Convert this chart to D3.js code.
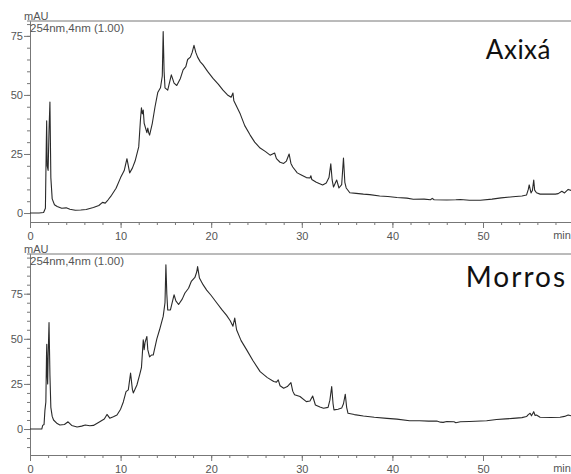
<!DOCTYPE html>
<html>
<head>
<meta charset="utf-8">
<script src="https://cdn.jsdelivr.net/npm/d3@7"></script>
<style>
  body { margin: 0; background: #fff; }
  .axis path, .axis line { stroke: #777; }
  .axis text { fill: #555; font-family: "Liberation Sans", Arial, sans-serif; font-size: 11px; }
  .trace { fill: none; stroke: #2a2a2a; stroke-width: 1.1; stroke-linejoin: round; }
</style>
</head>
<body>
<script>
// ---- data (time in min, absorbance in mAU) ----
var axixaTime = [0,1.0,1.5,1.7,1.8,1.84,1.9,2.0,2.1,2.2,2.3,2.45,2.7,3.0,3.5,4.0,4.4,5.0,5.6,6.2,7.0,7.6,8.0,8.3,8.6,9.0,9.5,10.0,10.4,10.7,11.0,11.3,11.6,12.0,12.2,12.3,12.4,12.5,12.6,12.9,13.0,13.1,13.2,13.5,13.8,14.1,14.4,14.6,14.7,14.8,14.9,15.2,15.6,15.9,16.2,16.6,16.9,17.2,17.4,17.7,17.9,18.1,18.3,18.5,18.8,19.1,19.6,20.2,20.8,21.3,21.8,22.2,22.4,22.5,23.2,23.7,24.3,24.8,25.4,26.0,26.5,27.0,27.2,27.6,28.0,28.3,28.6,28.8,29.0,29.5,30.0,30.5,30.9,31.0,31.1,31.6,32.3,32.7,33.0,33.2,33.35,33.5,33.85,34.1,34.4,34.6,34.75,34.9,35.3,36.0,36.8,37.5,38.6,39.5,40.5,41.6,42.3,43.5,44.2,44.4,44.6,46.0,47.0,47.5,48.5,49.7,51.0,52.0,53.3,54.3,54.8,55.0,55.1,55.3,55.45,55.6,55.7,55.9,56.3,57.0,58.0,58.3,58.7,59.0,59.4,59.8];
var axixaAbs  = [0,0,0.2,2,30,39,20,18,35,47,15,6,3.5,2.8,2.0,2.2,1.6,1.2,1.3,1.5,2.3,3.2,4.5,4.2,5.5,7.5,10.5,15,18,23,17,19,22,28,40,44.5,42,43.6,38,34,36,34,33,38,45,51,53,58,76.8,60,53,52,58.5,55,54,57,60.6,62,65,66,68,71,68,66,64,62.7,60,57,54.5,52,50,49,50.8,47.5,42,37,33,30,27.5,26,24.5,25.4,23,21.5,21,22,25,21,19.5,17,16,15,14.8,15.8,14.2,13,11.9,12.7,15,20.8,14,11,14,10.6,12,23.3,13,10.6,8.6,8.3,8.0,7.8,7.2,7.0,6.6,6.3,5.8,5.9,5.6,6.2,5.6,5.5,5.6,5.7,5.4,5.4,5.9,6.4,6.9,7.2,7.6,10,11.9,8.5,9.5,14,9.7,8.6,8,8,8,8.2,9.2,8.5,10,9.5];

var morrosTime = [0,1.3,1.4,1.55,1.65,1.75,1.82,1.85,1.9,1.95,2.0,2.1,2.2,2.3,2.45,2.6,3.0,3.3,3.8,4.2,4.6,5.2,5.7,6.1,6.6,7.0,7.7,8.2,8.5,8.8,9.2,9.6,10.0,10.3,10.6,10.85,11.1,11.3,11.4,11.8,12.1,12.3,12.5,12.6,12.7,12.9,13.0,13.2,13.4,13.6,14.0,14.3,14.7,14.9,15.0,15.1,15.2,15.5,15.9,16.1,16.4,16.8,17.1,17.5,17.8,18.2,18.4,18.5,18.7,19.1,19.5,20.0,20.6,21.2,21.7,22.1,22.4,22.6,22.8,23.3,23.9,24.6,25.4,26.2,26.9,27.2,27.4,27.6,28.0,28.4,28.8,29.0,29.2,29.8,30.5,30.9,31.2,31.5,32.0,32.4,32.9,33.1,33.3,33.45,33.55,34.0,34.4,34.6,34.8,34.95,35.1,35.8,36.8,38.0,39.4,40.5,41.9,43.0,44.0,44.9,45.3,45.6,46.0,46.8,47.0,47.5,48.5,50.4,51.5,52.5,53.3,54.3,54.8,55.0,55.2,55.35,55.6,55.75,55.9,56.3,57.5,58.5,59.0,59.4,59.8];
var morrosAbs  = [0,0,2,2.5,10.5,15,40,47,30,25,40,59,30,12,7,5,3,2.2,2.5,4,2,1.1,1.6,2.2,1.8,2,4,5.5,8.1,6,6.8,7.8,11,15,20.7,21.7,31,22,20,24.4,30,34,49.4,44,48,51.3,44,40,41,41,50,55,62.4,70,91,75,66,66,74.4,71,69,72,75.4,78,81.8,84,87,90,83.7,80,77,74,70,66,63,60,57,61.5,55,49,44,38,31.8,28.5,26.3,26,27.2,24,22.6,23.5,25.7,21,19,18,15.2,15.5,18.3,13.3,12.2,11.5,12,16,23.5,14,10.6,11,11.6,14,19.3,12,8.7,8,7.2,6.5,5.9,5.5,4.6,4.6,4.4,4.4,3.8,3.7,4.2,4.0,3.5,4.0,4.2,4.6,5.3,5.6,5.9,6.3,6.9,8,8.7,7.3,9.6,7.5,7.8,6.5,6.4,6.5,7,7.8,7.2];

var xMajor = [0, 10, 20, 30, 40, 50];
var yMajor = [0, 25, 50, 75];
var detector = "254nm,4nm (1.00)";

var width = 571, height = 474;

var svg = d3.select("body").append("svg")
    .attr("width", width)
    .attr("height", height);

// time scale shared by both panels
var x = d3.scaleLinear().domain([0, 60]).range([30, 573.6]);

var line = d3.line()
    .x(function(d) { return x(d[0]); })
    .y(function(d) { return d[1]; });

function drawPanel(p) {
  var y = d3.scaleLinear().domain(p.yDomain).range([p.bottom, p.top]);
  var g = svg.append("g");

  // top frame line
  g.append("line")
      .attr("x1", 27).attr("x2", width)
      .attr("y1", p.top).attr("y2", p.top)
      .attr("stroke", "#777");

  // y axis, minor then major
  g.append("g").attr("class", "axis")
      .attr("transform", "translate(30,0)")
      .call(d3.axisLeft(y).tickValues(p.yMinor).tickSize(3).tickSizeOuter(0).tickFormat(""));
  g.append("g").attr("class", "axis")
      .attr("transform", "translate(30,0)")
      .call(d3.axisLeft(y).tickValues(yMajor).tickSize(6).tickSizeOuter(0).tickPadding(1));

  // x axis
  g.append("g").attr("class", "axis")
      .attr("transform", "translate(0," + p.bottom + ")")
      .call(d3.axisBottom(x).tickValues(d3.range(0, 60, 2)).tickSize(3).tickSizeOuter(0).tickFormat(""));
  g.append("g").attr("class", "axis")
      .attr("transform", "translate(0," + p.bottom + ")")
      .call(d3.axisBottom(x).tickValues(xMajor).tickSize(6).tickSizeOuter(0).tickPadding(4));

  g.append("text")
      .attr("x", 562).attr("y", p.bottom + 17)
      .attr("text-anchor", "middle")
      .style("font", "11px 'Liberation Sans', Arial, sans-serif")
      .style("fill", "#555")
      .text("min");

  // unit + detector label
  g.append("text")
      .attr("x", 24).attr("y", p.top - 1)
      .style("font", "11px 'Liberation Sans', Arial, sans-serif")
      .style("fill", "#555")
      .text("mAU");
  g.append("text")
      .attr("x", 30).attr("y", p.top + 11)
      .style("font", "11.5px 'Liberation Sans', Arial, sans-serif")
      .style("fill", "#555")
      .text(detector);

  // chromatogram trace
  var pts = p.time.map(function(t, i) { return [t, y(p.abs[i])]; });
  g.append("clipPath").attr("id", "clip" + p.id)
    .append("rect")
      .attr("x", 30).attr("y", p.top)
      .attr("width", width - 30).attr("height", p.bottom - p.top);
  g.append("path")
      .datum(pts)
      .attr("class", "trace")
      .attr("clip-path", "url(#clip" + p.id + ")")
      .attr("d", line);

  // sample name
  g.append("text")
      .attr("x", p.nameX).attr("y", p.nameY)
      .attr("text-anchor", "end")
      .style("font", p.nameFont + " Lato, 'Open Sans', sans-serif")
      .style("letter-spacing", p.nameSpacing)
      .style("fill", "#111")
      .text(p.name);
}

drawPanel({
  id: 1, name: "Axixá", time: axixaTime, abs: axixaAbs,
  top: 21, bottom: 222, yDomain: [-3.8, 81.3],
  yMinor: d3.range(0, 81, 5), nameX: 551, nameY: 59,
  nameFont: "26px", nameSpacing: "0.5px"
});

drawPanel({
  id: 2, name: "Morros", time: morrosTime, abs: morrosAbs,
  top: 254, bottom: 455, yDomain: [-14.4, 97],
  yMinor: d3.range(-10, 96, 5), nameX: 567, nameY: 287,
  nameFont: "28px", nameSpacing: "2px"
});
</script>
</body>
</html>
